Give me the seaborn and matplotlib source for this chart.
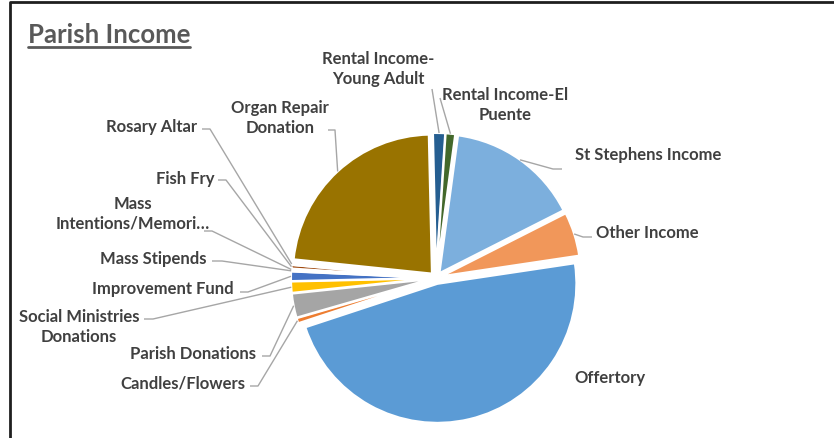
import matplotlib
matplotlib.use("Agg")
import matplotlib.pyplot as plt
import seaborn as sns
import numpy as np

sns.set_theme(style="white")
plt.rcParams['font.family'] = ['Lato', 'DejaVu Sans']

# slices in drawing order (clockwise, Offertory first)
categories = ["Offertory", "Candles/Flowers", "Parish Donations",
              "Social Ministries\nDonations", "Improvement Fund", "Mass Stipends",
              "Mass\nIntentions/Memori…", "Fish Fry", "Rosary Altar",
              "Organ Repair\nDonation", "Rental Income-\nYoung Adult",
              "Rental Income-El\nPuente", "St Stephens Income", "Other Income"]
shares = [47.3, 0.6, 2.8, 1.3, 1.1, 0.1, 0.2, 0.4, 0.2, 23.0, 1.4, 1.1, 15.4, 5.1]
colors = ["#5B9BD5", "#ED7D31", "#A5A5A5", "#FFC000", "#4472C4", "#70AD47",
          "#264478", "#9E480E", "#636363", "#997300", "#255E91", "#43682B",
          "#7CAFDD", "#F1975A"]

W, H = 834, 439

def py(y):
    return H - y

# label layout in pixels (centre of text)
label_pos = [(610, 378), (183, 384), (193, 354), (79, 327), (163, 289),
             (153, 259), (133, 214), (185, 179), (152, 127), (280, 118),
             (378, 69), (505, 105), (648, 155), (647, 233)]
# leader lines: (end at label, elbow) in pixels, None = no line
leaders = [None, ((250, 387), (258, 387)), ((262, 357), (270, 357)),
           ((144, 320), (153, 320)), ((240, 293), (248, 293)),
           ((212, 262), (222, 262)), ((204, 232), (212, 232)),
           ((218, 181), (226, 181)), ((202, 130), (210, 130)),
           ((328, 131), (335, 131)), ((432, 90), (432, 90)),
           ((440, 99), (440, 99)), ((562, 170), (553, 170)),
           ((592, 238), (583, 238))]

fig = plt.figure(figsize=(W / 100, H / 100), dpi=100)
ax = fig.add_axes([0, 0, 1, 1])

wedges, _ = ax.pie(shares, colors=colors, startangle=8.5, counterclock=False,
                   center=(436, py(279)), radius=139, explode=[6] * len(shares),
                   wedgeprops=dict(edgecolor="white", linewidth=1.5))
ax.set_xlim(0, W)
ax.set_ylim(0, H)
ax.set_aspect("equal")
ax.axis("off")

for w, lab, (lx, ly), ld in zip(wedges, categories, label_pos, leaders):
    ax.text(lx, py(ly), lab, ha="center", va="center", fontsize=12,
            weight="bold", color="#404040", linespacing=1.3)
    if ld is None:
        continue
    cx, cy = w.center
    th = np.deg2rad((w.theta1 + w.theta2) / 2)
    ax_, ay_ = cx + w.r * np.cos(th), cy + w.r * np.sin(th)
    (ex, ey), (bx, by) = ld
    ax.plot([ex, bx, ax_], [py(ey), py(by), ay_], color="#A6A6A6", lw=1,
            solid_capstyle="butt", clip_on=False)

title = ax.text(28, py(35), "Parish Income", ha="left", va="center",
                fontsize=18.5, weight="bold", color="#595959")
fig.canvas.draw()
bb = title.get_window_extent()
ax.plot([bb.x0, bb.x1], [bb.y0 - 1, bb.y0 - 1], color="#595959", lw=2)

# chart frame
ax.plot([10, 10, W], [0, py(3), py(3)], color="#1f1f1f", lw=2, clip_on=False)

fig.savefig("out.png", dpi=100)
